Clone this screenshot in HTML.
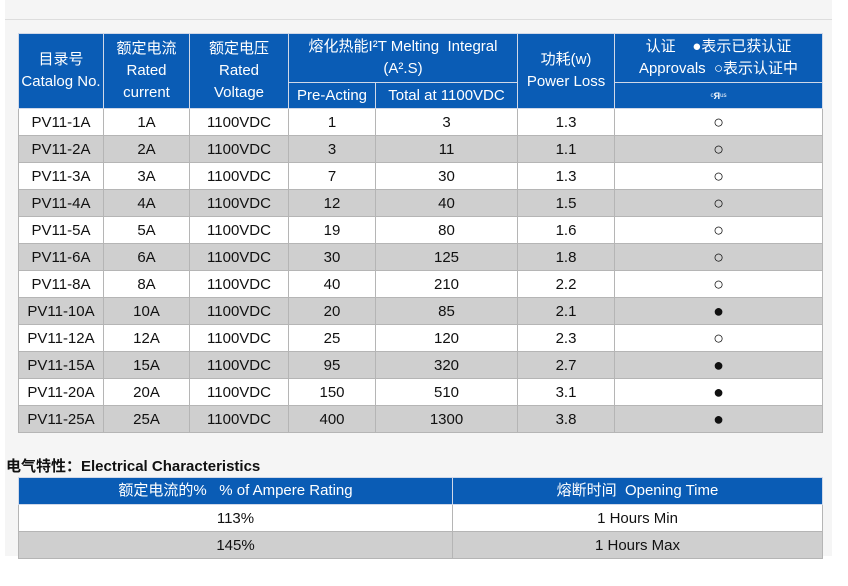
<!DOCTYPE html>
<html><head><meta charset="utf-8"><style>
body{margin:0;width:848px;height:586px;background:#fff;position:relative;overflow:hidden;font-family:"Liberation Sans","Noto Sans CJK SC",sans-serif;}
#bg{position:absolute;left:5px;top:0;width:827px;height:556px;background:#f5f5f5;}
#line{position:absolute;left:5px;top:19px;width:827px;height:1px;background:#ddd;}
table{position:absolute;border-collapse:collapse;table-layout:fixed;font-size:15px;color:#111;}
td{text-align:center;border:1px solid #b5b5b5;padding:0;}
.h td{background:#0a5cb5;color:#fff;border:1px solid #d0d8e8;line-height:22px;}
tr.g td{background:#cfcfcf;}
tr.w td{background:#fff;}
td.s{font-size:18px;}
#t1{left:18px;top:33px;width:804px;}
#t1 tr.d td{height:26px;}
#t2{left:18px;top:477px;width:804px;}
#t2 td{height:26px;}
#t2 .h td{line-height:20px;}
#title{position:absolute;left:6px;top:455px;font-size:15px;font-weight:bold;color:#111;}
</style></head><body>
<div id="bg"></div><div id="line"></div>
<table id="t1">
<colgroup><col style="width:85px"><col style="width:86px"><col style="width:99px"><col style="width:87px"><col style="width:142px"><col style="width:97px"><col style="width:208px"></colgroup>
<tr class="h"><td rowspan="2" style="height:74px">目录号<br>Catalog No.</td><td rowspan="2">额定电流<br>Rated<br>current</td><td rowspan="2">额定电压<br>Rated<br>Voltage</td><td colspan="2" style="height:48px">熔化热能I²T Melting&nbsp; Integral<br>(A².S)</td><td rowspan="2">功耗(w)<br>Power Loss</td><td style="height:48px">认证&nbsp;&nbsp;&nbsp; ●表示已获认证<br>Approvals&nbsp; ○表示认证中</td></tr>
<tr class="h"><td style="height:25px">Pre-Acting</td><td>Total at 1100VDC</td><td style="font-size:9px">ᶜ<b>Я</b>ᵘˢ</td></tr>
<tr class="d w"><td>PV11-1A</td><td>1A</td><td>1100VDC</td><td>1</td><td>3</td><td>1.3</td><td class="s">○</td></tr>
<tr class="d g"><td>PV11-2A</td><td>2A</td><td>1100VDC</td><td>3</td><td>11</td><td>1.1</td><td class="s">○</td></tr>
<tr class="d w"><td>PV11-3A</td><td>3A</td><td>1100VDC</td><td>7</td><td>30</td><td>1.3</td><td class="s">○</td></tr>
<tr class="d g"><td>PV11-4A</td><td>4A</td><td>1100VDC</td><td>12</td><td>40</td><td>1.5</td><td class="s">○</td></tr>
<tr class="d w"><td>PV11-5A</td><td>5A</td><td>1100VDC</td><td>19</td><td>80</td><td>1.6</td><td class="s">○</td></tr>
<tr class="d g"><td>PV11-6A</td><td>6A</td><td>1100VDC</td><td>30</td><td>125</td><td>1.8</td><td class="s">○</td></tr>
<tr class="d w"><td>PV11-8A</td><td>8A</td><td>1100VDC</td><td>40</td><td>210</td><td>2.2</td><td class="s">○</td></tr>
<tr class="d g"><td>PV11-10A</td><td>10A</td><td>1100VDC</td><td>20</td><td>85</td><td>2.1</td><td class="s">●</td></tr>
<tr class="d w"><td>PV11-12A</td><td>12A</td><td>1100VDC</td><td>25</td><td>120</td><td>2.3</td><td class="s">○</td></tr>
<tr class="d g"><td>PV11-15A</td><td>15A</td><td>1100VDC</td><td>95</td><td>320</td><td>2.7</td><td class="s">●</td></tr>
<tr class="d w"><td>PV11-20A</td><td>20A</td><td>1100VDC</td><td>150</td><td>510</td><td>3.1</td><td class="s">●</td></tr>
<tr class="d g"><td>PV11-25A</td><td>25A</td><td>1100VDC</td><td>400</td><td>1300</td><td>3.8</td><td class="s">●</td></tr>
</table>
<div id="title">电气特性：Electrical Characteristics</div>
<table id="t2">
<colgroup><col style="width:434px"><col style="width:370px"></colgroup>
<tr class="h"><td>额定电流的%&nbsp;&nbsp; % of Ampere Rating</td><td>熔断时间&nbsp; Opening Time</td></tr>
<tr class="w"><td>113%</td><td>1 Hours Min</td></tr>
<tr class="g"><td>145%</td><td>1 Hours Max</td></tr>
</table>
</body></html>
